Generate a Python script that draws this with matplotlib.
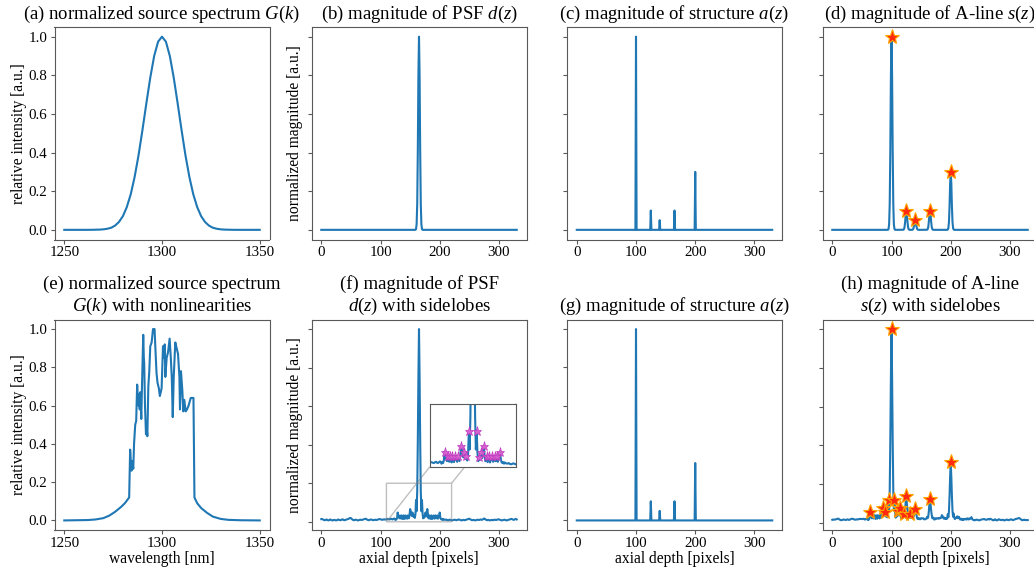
import numpy as np
import matplotlib
matplotlib.use("Agg")
import matplotlib.pyplot as plt

plt.rcParams.update({
    "font.family": ["Liberation Serif", "DejaVu Serif"],
    "mathtext.fontset": "custom",
    "mathtext.rm": "Liberation Serif",
    "mathtext.it": "Liberation Serif:italic",
    "axes.edgecolor": "0.35",
    "xtick.color": "0.35",
    "ytick.color": "0.35",
    "xtick.labelcolor": "black",
    "ytick.labelcolor": "black",
    "xtick.labelsize": 10.8,
    "ytick.labelsize": 10.8,
    "xtick.major.size": 3,
    "ytick.major.size": 3,
    "xtick.major.pad": 2,
    "ytick.major.pad": 2,
    "axes.labelsize": 11.2,
    "axes.labelpad": 1,
    "axes.titlesize": 13.5,
})

# ---- source spectrum (a): wavelength [nm] and relative intensity
wl = [1250, 1260, 1264, 1268, 1270, 1272, 1274, 1276, 1278, 1280, 1282, 1284,
      1286, 1288, 1290, 1292, 1294, 1296, 1298, 1300, 1302, 1304, 1306, 1308,
      1310, 1312, 1314, 1316, 1318, 1320, 1322, 1324, 1326, 1328, 1330, 1332,
      1336, 1340, 1350]
g = [0.0, 0.0, 0.0002, 0.0012, 0.0026, 0.0056, 0.011, 0.022, 0.041, 0.071,
     0.118, 0.184, 0.274, 0.386, 0.517, 0.655, 0.788, 0.900, 0.974, 1.0,
     0.974, 0.900, 0.788, 0.655, 0.517, 0.386, 0.274, 0.184, 0.118, 0.071,
     0.041, 0.022, 0.011, 0.0056, 0.0026, 0.0012, 0.0002, 0.0, 0.0]

# ---- spectrum with nonlinearities (e)
wl_nl = [1250, 1262, 1266, 1270, 1273, 1276, 1279, 1281, 1283.2, 1283.7,
         1284.1, 1284.4, 1284.9, 1285.3, 1285.7, 1286.3, 1286.8, 1287.0,
         1287.3, 1287.7, 1288.0, 1288.3, 1288.6, 1288.9, 1289.4, 1289.8,
         1290.4, 1290.7, 1290.9, 1291.3, 1291.8, 1292.1, 1292.5, 1293.0,
         1293.5, 1294.0, 1294.7, 1295.4, 1296.2, 1296.7, 1297.2, 1297.7,
         1298.4, 1298.9, 1299.8, 1300.5, 1301.0, 1301.4, 1301.7, 1302.4,
         1303.1, 1303.9, 1304.5, 1305.0, 1305.5, 1306.0, 1306.8, 1307.5,
         1308.2, 1308.9, 1309.2, 1309.7, 1310.4, 1310.9, 1311.4, 1312.1,
         1312.8, 1313.6, 1314.7, 1316.1, 1316.6, 1318, 1320, 1323, 1326,
         1330, 1334, 1340, 1350]
g_nl = [0.0, 0.002, 0.005, 0.012, 0.025, 0.045, 0.07, 0.09, 0.12, 0.37,
        0.30, 0.26, 0.31, 0.27, 0.40, 0.50, 0.52, 0.60,
        0.71, 0.62, 0.60, 0.66, 0.58, 0.67, 0.53, 0.72,
        0.97, 0.85, 0.82, 0.60, 0.45, 0.50, 0.44, 0.70,
        0.78, 0.91, 0.93, 1.00, 1.00, 0.88, 0.77, 0.72,
        0.69, 0.65, 0.69, 0.91, 0.85, 0.92, 0.75, 0.85,
        0.88, 0.95, 0.85, 0.75, 0.54, 0.75, 0.93, 0.90,
        0.87, 0.75, 0.58, 0.78, 0.68, 0.57, 0.63, 0.57,
        0.58, 0.60, 0.64, 0.64, 0.12, 0.09, 0.065, 0.04, 0.02,
        0.008, 0.003, 0.001, 0.0]

# ---- axial depth grid, structure a(z)
n_z = 331
struct_z = [100, 125, 140, 165, 200]
struct_amp = [1.0, 0.1, 0.05, 0.1, 0.3]
psf_center = 165

# ---- ideal PSF d(z): offsets around the centre and magnitude
psf_offsets = [-5, -4, -3, -2, -1, 0, 1, 2, 3, 4, 5]
psf_vals = [0.004, 0.03, 0.135, 0.41, 0.8, 1.0, 0.8, 0.41, 0.135, 0.03, 0.004]

# ---- PSF with sidelobes (thousandths): floor left, core, floor right
floor_left = [14, 15, 13, 12, 10, 9, 8, 9, 11, 12, 10, 8, 7, 8, 10, 12, 11, 9, 8, 7, 8, 9, 10, 9, 8,
              7, 8, 9, 11, 12, 10, 9, 8, 9, 10, 12, 13, 11, 9, 8, 9, 10, 11, 12, 13, 14, 15, 17, 19, 20,
              19, 16, 13, 11, 9, 8, 9, 10, 11, 10, 9, 8, 7, 8, 9, 10, 11, 10, 9, 10, 11, 12, 13, 14, 15,
              16, 14, 12, 10, 9, 8, 9, 10, 11, 12, 11, 10, 9, 8, 9, 10, 11, 10, 9, 10, 11, 12, 13, 14, 14,
              13, 12, 11, 10, 11, 12, 13, 12, 11, 12, 13, 14, 15, 14, 13, 12, 13, 15, 16, 14, 12, 13, 15, 17, 16]
core = [10, 14, 12, 20, 48, 30, 25, 18, 33, 20,
        16, 33, 22, 14, 33, 20, 15, 33, 28, 22,
        16, 33, 25, 18, 35, 66, 55, 40, 30, 48,
        30, 25, 33, 20, 40, 113, 55, 160, 420, 750,
        1000,
        750, 420, 160, 55, 113, 45, 18, 30, 22, 35,
        48, 28, 45, 66, 40, 18, 25, 33, 15, 22,
        33, 14, 20, 28, 33, 16, 22, 33, 18, 20,
        33, 16, 22, 30, 48, 22, 14, 12, 15, 10]
floor_right = [14, 12, 11, 10, 11, 12, 10, 9, 8, 9, 10, 11, 10, 9, 8, 7, 8, 9, 10, 11, 10, 9, 8, 9, 10,
               11, 12, 11, 10, 9, 8, 7, 8, 9, 10, 9, 8, 9, 10, 11, 12, 13, 14, 15, 16, 14, 12, 10, 9, 8,
               9, 10, 9, 8, 7, 8, 9, 10, 11, 10, 9, 10, 11, 12, 11, 10, 11, 13, 15, 17, 16, 13, 11, 9, 8,
               9, 10, 9, 8, 7, 8, 9, 10, 9, 8, 9, 10, 11, 10, 9, 10, 11, 12, 13, 12, 11, 10, 9, 8, 7,
               8, 9, 10, 11, 10, 9, 8, 7, 8, 9, 10, 11, 12, 13, 14, 15, 14, 12, 11, 10, 11, 13, 15, 14, 12]

# marked peaks
inset_peaks = [129, 133, 136, 139, 142, 146, 150, 154, 157, 160,
               170, 173, 176, 179, 183, 186, 190, 193, 196, 200]
aline_peaks = [64, 85, 89, 95, 100, 105, 111, 114, 121, 125, 131, 140, 165, 200]

# ---- build the curves
z = np.arange(n_z)
a = np.zeros(n_z)
a[struct_z] = struct_amp

d = np.zeros(n_z)
d[psf_center + np.array(psf_offsets)] = psf_vals

d_sl = np.array(floor_left + core + floor_right) / 1000.0

s = np.zeros(n_z)
s_sl = np.zeros(n_z)
for zk, amp in zip(struct_z, struct_amp):
    s += amp * np.roll(d, zk - psf_center)
    s_sl += amp * np.roll(d_sl, zk - psf_center)
s /= s.max()
s_sl /= s_sl.max()

# ---- figure
W, H = 1034, 571
fig = plt.figure(figsize=(W / 100, H / 100), dpi=100)
lefts = [54.5, 311.5, 567, 822.5]
width = 215


def make_ax(col, top, bottom):
    return fig.add_axes([lefts[col] / W, (H - bottom) / H,
                         width / W, (bottom - top) / H])


top_axes = [make_ax(c, 27, 239.5) for c in range(4)]
bot_axes = [make_ax(c, 319.5, 530) for c in range(4)]

lw = 1.5
col = "#1f77b4"
star = dict(marker="*", ls="none", ms=11, mfc="#ff2a10", mec="orange",
            mew=0.8, zorder=5)

# (a)
ax = top_axes[0]
ax.plot(wl, g, color=col, lw=lw)
ax.set_title("(a) normalized source spectrum $G(k)$")
ax.set_ylabel("relative intensity [a.u.]")

# (b)
ax = top_axes[1]
ax.plot(z, d, color=col, lw=lw)
ax.set_title("(b) magnitude of PSF $d(z)$")
ax.set_ylabel("normalized magnitude [a.u.]")

# (c)
ax = top_axes[2]
ax.plot(z, a, color=col, lw=lw)
ax.set_title("(c) magnitude of structure $a(z)$")

# (d)
ax = top_axes[3]
ax.plot(z, s, color=col, lw=lw)
ax.plot(struct_z, s[struct_z], **star)
ax.set_title("(d) magnitude of A-line $s(z)$")

# (e)
ax = bot_axes[0]
ax.plot(wl_nl, g_nl, color=col, lw=lw)
ax.set_title("(e) normalized source spectrum\n$G(k)$ with nonlinearities")
ax.set_ylabel("relative intensity [a.u.]")
ax.set_xlabel("wavelength [nm]")

# (f)
ax = bot_axes[1]
ax.plot(z, d_sl, color=col, lw=lw)
ax.set_title("(f) magnitude of PSF\n$d(z)$ with sidelobes")
ax.set_ylabel("normalized magnitude [a.u.]")
ax.set_xlabel("axial depth [pixels]")
axins = ax.inset_axes([0.55, 0.30, 0.40, 0.30])
axins.plot(z, d_sl, color=col, lw=lw)
axins.plot(inset_peaks, d_sl[inset_peaks], marker="*", ls="none", ms=6.5,
           mfc="#d861d0", mec="#c03cc0", mew=0.5, zorder=5)
axins.set_xlim(110, 220)
axins.set_ylim(0, 0.2)
axins.set_xticks([])
axins.set_yticks([])
ax.indicate_inset_zoom(axins, edgecolor="0.5")

# (g)
ax = bot_axes[2]
ax.plot(z, a, color=col, lw=lw)
ax.set_title("(g) magnitude of structure $a(z)$")
ax.set_xlabel("axial depth [pixels]")

# (h)
ax = bot_axes[3]
ax.plot(z, s_sl, color=col, lw=lw)
ax.plot(aline_peaks, s_sl[aline_peaks], **star)
ax.set_title("(h) magnitude of A-line\n$s(z)$ with sidelobes")
ax.set_xlabel("axial depth [pixels]")

for ax in (top_axes[0], bot_axes[0]):
    ax.set_xticks([1250, 1300, 1350])
    ax.set_yticks([0.0, 0.2, 0.4, 0.6, 0.8, 1.0])
for ax in top_axes[1:] + bot_axes[1:]:
    ax.set_xticks([0, 100, 200, 300])
    ax.set_yticks([0.0, 0.2, 0.4, 0.6, 0.8, 1.0])
    ax.set_yticklabels([])

fig.savefig("out.png", dpi=100)
